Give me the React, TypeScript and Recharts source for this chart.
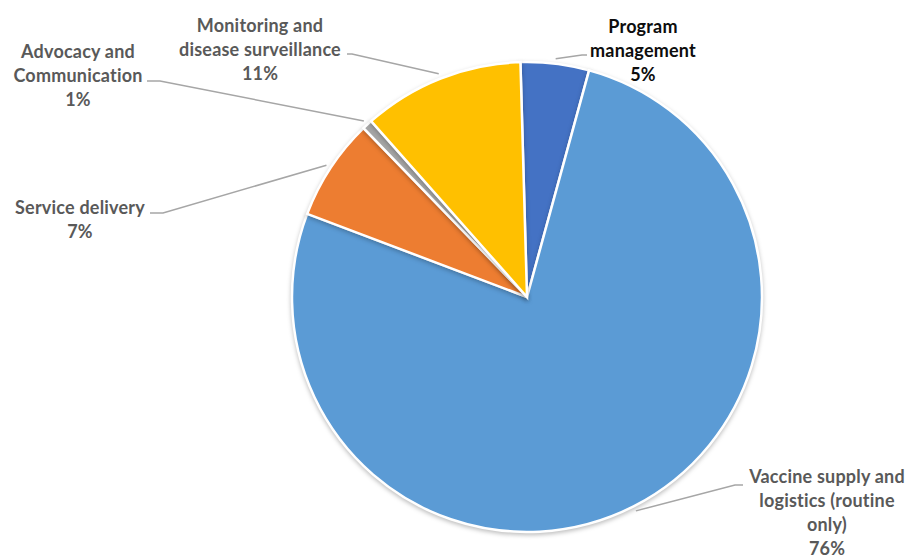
import { Cell, Pie, PieChart } from "recharts";

const categories = [
  "Program management",
  "Vaccine supply and logistics (routine only)",
  "Service delivery",
  "Advocacy and Communication",
  "Monitoring and disease surveillance",
];
const shares = [4.7, 76.5, 7.0, 0.7, 11.1];
const labelLines = [
  ["Program", "management", "5%"],
  ["Vaccine supply and", "logistics (routine", "only)", "76%"],
  ["Service delivery", "7%"],
  ["Advocacy and", "Communication", "1%"],
  ["Monitoring and", "disease surveillance", "11%"],
];
const colors = ["#4472C4", "#5B9BD5", "#ED7D31", "#A5A5A5", "#FFC000"];

// label placement, relative to the pie centre (Excel puts these by hand)
const labelLayout = [
  { x: 116, y: -270, elbow: [55, -242], end: [60, -242], color: "#0d0d0d" },
  { x: 300, y: 180, elbow: [208, 188], end: [216, 188], color: "#595959" },
  { x: -447, y: -89, elbow: [-364, -84], end: [-377, -84], color: "#595959" },
  { x: -449, y: -245, elbow: [-367, -216], end: [-380, -216], color: "#595959" },
  { x: -267, y: -271, elbow: [-175, -243], end: [-180, -243], color: "#595959" },
];

const data = categories.map((name, i) => ({ name, value: shares[i] }));

const RAD = Math.PI / 180;

function renderLabel(props: any) {
  const { cx, cy, midAngle, outerRadius, index } = props;
  const layout = labelLayout[index];
  const r = outerRadius + 5;
  const sx = cx + r * Math.cos(-midAngle * RAD);
  const sy = cy + r * Math.sin(-midAngle * RAD);
  const lines = labelLines[index];
  return (
    <g>
      <polyline
        points={`${sx},${sy} ${cx + layout.elbow[0]},${cy + layout.elbow[1]} ${cx + layout.end[0]},${cy + layout.end[1]}`}
        fill="none"
        stroke="#a6a6a6"
        strokeWidth={1.5}
      />
      <text
        x={cx + layout.x}
        y={cy + layout.y}
        textAnchor="middle"
        fill={layout.color}
        fontFamily="Lato, 'Open Sans', sans-serif"
        fontWeight={700}
        fontSize={18}
        letterSpacing={0.2}
      >
        {lines.map((line, i) => (
          <tspan key={i} x={cx + layout.x} dy={i === 0 ? "0.35em" : 24}>
            {line}
          </tspan>
        ))}
      </text>
    </g>
  );
}

export default function App() {
  return (
    <div style={{ position: "absolute", left: 0, top: 0, width: 905, height: 559, background: "#fff" }}>
      <style>{`.recharts-pie-sector path { filter: drop-shadow(0px 2px 2px rgba(0,0,0,0.25)); }`}</style>
      <PieChart width={905} height={559} margin={{ top: 0, right: 0, bottom: 0, left: 0 }}>
        <Pie
          data={data}
          dataKey="value"
          nameKey="name"
          cx={527}
          cy={297}
          outerRadius={235}
          startAngle={91.6}
          endAngle={-268.4}
          stroke="#ffffff"
          strokeWidth={2.5}
          label={renderLabel}
          labelLine={false}
          isAnimationActive={false}
        >
          {data.map((entry, i) => (
            <Cell key={entry.name} fill={colors[i]} />
          ))}
        </Pie>
      </PieChart>
    </div>
  );
}
